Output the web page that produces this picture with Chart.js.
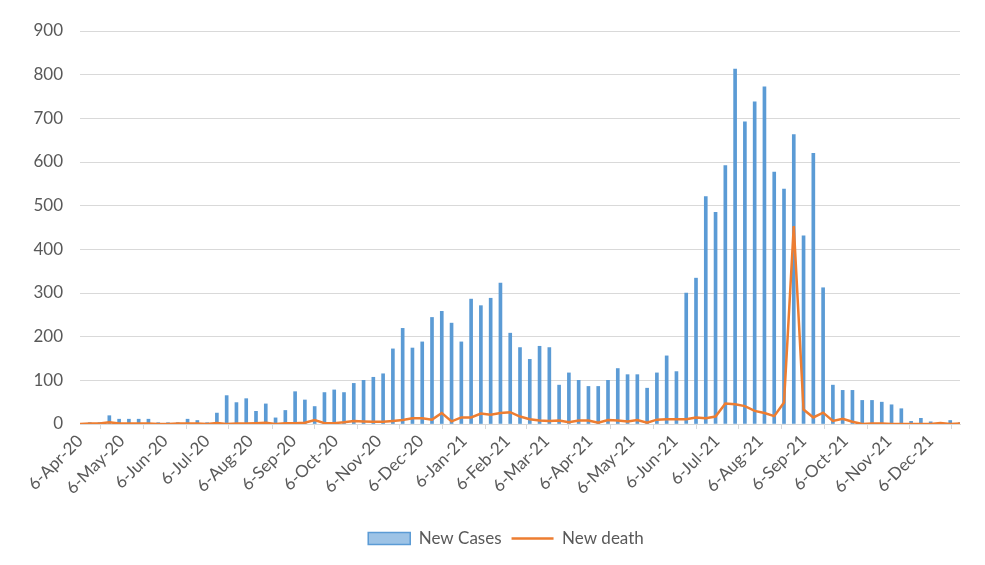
<!DOCTYPE html>
<html>
<head>
<meta charset="utf-8">
<script src="https://cdn.jsdelivr.net/npm/chart.js@4"></script>
<style>
  html, body { margin: 0; padding: 0; background: #ffffff; }
  #wrap { width: 985px; height: 565px; }
</style>
</head>
<body>
<div id="wrap"><canvas id="chart" width="985" height="565"></canvas></div>
<script>
// Weekly series, first week starting 6-Apr-20
const firstWeek = '6-Apr-20';

const newCases = [
  0, 3, 3, 19, 11, 11, 11, 11, 3, 3,
  3, 11, 8, 3, 25, 65, 49, 58, 29, 46,
  14, 31, 74, 55, 40, 72, 78, 72, 93, 100,
  107, 115, 172, 219, 174, 188, 244, 258, 231, 188,
  286, 271, 288, 323, 208, 175, 148, 178, 175, 89,
  117, 100, 86, 86, 100, 127, 113, 113, 82, 117,
  156, 120, 300, 334, 521, 485, 592, 813, 692, 738,
  772, 577, 538, 663, 431, 620, 312, 89, 77, 77,
  54, 54, 50, 44, 35, 6, 13, 5, 1, 8,
  3
];

const newDeath = [
  0, 1, 1, 4, 1, 1, 1, 1, 0, 0,
  1, 1, 1, 0, 2, 0, 1, 1, 2, 3,
  0, 2, 2, 3, 9, 2, 2, 4, 7, 6,
  5, 5, 7, 9, 13, 13, 10, 25, 6, 15,
  15, 24, 21, 25, 27, 17, 11, 8, 7, 8,
  4, 8, 8, 3, 9, 8, 6, 9, 3, 10,
  11, 11, 11, 15, 13, 17, 47, 45, 41, 30,
  25, 18, 49, 453, 33, 15, 26, 7, 12, 5,
  0, 1, 1, 0, 0, 0, 0, 0, 2, 0,
  1
];

const monthLabels = [
  '6-Apr-20', '6-May-20', '6-Jun-20', '6-Jul-20', '6-Aug-20', '6-Sep-20',
  '6-Oct-20', '6-Nov-20', '6-Dec-20', '6-Jan-21', '6-Feb-21', '6-Mar-21',
  '6-Apr-21', '6-May-21', '6-Jun-21', '6-Jul-21', '6-Aug-21', '6-Sep-21',
  '6-Oct-21', '6-Nov-21', '6-Dec-21'
];

const yTicks = [0, 100, 200, 300, 400, 500, 600, 700, 800, 900];

// Convert a "d-Mon-yy" label into a day number
const MONTHS = { Jan: 0, Feb: 1, Mar: 2, Apr: 3, May: 4, Jun: 5, Jul: 6, Aug: 7, Sep: 8, Oct: 9, Nov: 10, Dec: 11 };
function dayNumber(label) {
  const [d, m, y] = label.split('-');
  return Date.UTC(2000 + Number(y), MONTHS[m], Number(d)) / 86400000;
}
const day0 = dayNumber(firstWeek);
const monthDays = monthLabels.map(l => dayNumber(l) - day0);
const weekDays = newCases.map((_, i) => i * 7);

const FONT = { family: 'Lato, "Liberation Sans", sans-serif', size: 17 };
const TEXT = '#595959';
const GRID = '#D9D9D9';

// Centre the legend on the whole canvas rather than on the padded area
const legendShift = {
  id: 'legendShift',
  afterLayout(chart) {
    const dx = 26;
    chart.legend.left += dx;
    chart.legend.right += dx;
  }
};

new Chart(document.getElementById('chart'), {
  type: 'bar',
  plugins: [legendShift],
  data: {
    datasets: [
      {
        type: 'bar',
        label: 'New Cases',
        data: weekDays.map((x, i) => ({ x, y: newCases[i] })),
        backgroundColor: '#5B9BD5',
        borderWidth: 0,
        barThickness: 3,
        order: 1
      },
      {
        type: 'line',
        label: 'New death',
        data: weekDays.map((x, i) => ({ x, y: newDeath[i] })),
        borderColor: '#ED7D31',
        borderWidth: 2.5,
        pointRadius: 0,
        tension: 0,
        fill: false,
        order: 0
      }
    ]
  },
  options: {
    responsive: false,
    animation: false,
    devicePixelRatio: 1,
    layout: { padding: { left: 0, right: 25, top: 31, bottom: 8 } },
    scales: {
      x: {
        type: 'linear',
        min: 0,
        max: weekDays[weekDays.length - 1],
        offset: false,
        afterBuildTicks(scale) {
          scale.ticks = monthDays.map(v => ({ value: v }));
        },
        afterFit(scale) { scale.height = 96; },
        ticks: {
          autoSkip: false,
          minRotation: 45,
          maxRotation: 45,
          padding: 2,
          color: TEXT,
          font: FONT,
          callback: (v, i) => monthLabels[i]
        },
        grid: {
          drawOnChartArea: false,
          drawTicks: true,
          tickLength: 5,
          color: GRID
        },
        border: { display: true, color: GRID, width: 1 }
      },
      y: {
        min: 0,
        max: 900,
        afterBuildTicks(scale) {
          scale.ticks = yTicks.map(v => ({ value: v }));
        },
        afterFit(scale) { scale.width = 80; },
        ticks: { color: TEXT, font: FONT, padding: 17 },
        grid: { color: GRID, lineWidth: 1, drawTicks: false },
        border: { display: false }
      }
    },
    plugins: {
      tooltip: { enabled: false },
      legend: {
        position: 'bottom',
        labels: {
          color: TEXT,
          font: FONT,
          usePointStyle: true,
          pointStyleWidth: 42,
          boxHeight: 12,
          padding: 10,
          sort: (a, b) => a.datasetIndex - b.datasetIndex,
          generateLabels(chart) {
            const items = Chart.defaults.plugins.legend.labels.generateLabels(chart);
            items.forEach(it => {
              if (it.datasetIndex === 0) {
                it.pointStyle = 'rect';
                it.fillStyle = '#9DC3E6';
                it.strokeStyle = '#5B9BD5';
                it.lineWidth = 1.5;
              } else {
                it.pointStyle = 'line';
                it.strokeStyle = '#ED7D31';
                it.lineWidth = 2.5;
              }
            });
            return items;
          }
        }
      }
    }
  }
});
</script>
</body>
</html>
